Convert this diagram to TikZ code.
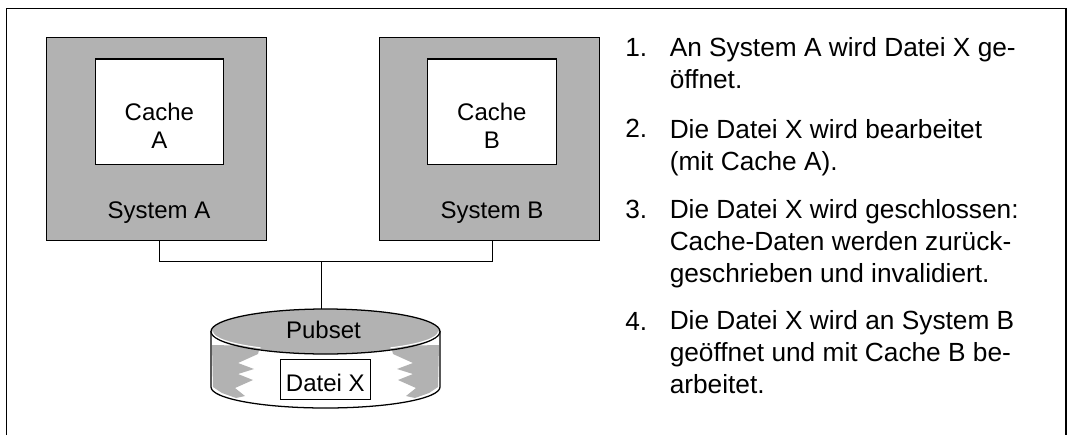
\documentclass[tikz,border=0pt]{standalone}
\usepackage{fontspec}
\setmainfont{Liberation Sans}
\definecolor{sysgray}{gray}{0.70}
\begin{document}
\begin{tikzpicture}[x=0.75pt,y=-0.75pt]
    \tikzstyle{line} = [line width=0.95pt]
    \tikzstyle{bus} = [line width=0.7pt]
    \tikzstyle{sys} = [rectangle, draw=black, line width=0.85pt, fill=sysgray,
        minimum width=165pt, minimum height=152.5pt, inner sep=0pt]
    \tikzstyle{cache} = [rectangle, draw=black, line width=0.85pt, fill=white, align=center,
        minimum width=96.5pt, minimum height=79pt, inner sep=0pt, text height=55pt, text depth=0pt,
        font=\fontsize{18}{21}\selectfont]
    \tikzstyle{lbl} = [anchor=base, inner sep=0pt, font=\fontsize{18}{21}\selectfont]
    \tikzstyle{num} = [anchor=base west, inner sep=0pt, font=\fontsize{19.7}{24}\selectfont]
    \tikzstyle{item} = [anchor=base west, inner sep=0pt, align=left,
        font=\fontsize{19.7}{24}\selectfont]

    \useasboundingbox (0,0) rectangle (1069,435);

    % frame, open at the bottom
    \coordinate (framesw) at (6.5,435);
    \coordinate (framenw) at (6.5,8.5);
    \coordinate (framene) at (1066,8.5);
    \coordinate (framese) at (1066,435);
    \draw[line] (framesw) -- (framenw) -- (framene) -- (framese);

    \node(sysa) [sys] at (46,37) [anchor=north west] {};
    \node(sysb) [sys] at (379,37) [anchor=north west] {};
    \node(cachea) [cache] at (94.5,58.5) [anchor=north west] {Cache\\ A};
    \node(cacheb) [cache] at (427,58.5) [anchor=north west] {Cache\\ B};
    \node(labela) [lbl] at (159,218) {System A};
    \node(labelb) [lbl] at (492,218) {System B};

    % pubset
    \coordinate (disktop) at (321,309);
    \filldraw[line, fill=white] (211,331) -- (211,387) arc[start angle=180, end angle=0,
        x radius=114.5, y radius=21] -- (440,331);
    \fill[sysgray] (212,345) -- (260,346) -- (258,354) -- (238,363) -- (254,369) -- (238,374)
        -- (253,380) -- (235,388) -- (245,396) -- (236,398) -- (222,393) -- (213,387) -- cycle;
    \fill[sysgray] (439,345) -- (391,346) -- (393,354) -- (413,363) -- (397,369) -- (413,374)
        -- (398,380) -- (416,388) -- (406,396) -- (415,398) -- (429,393) -- (438,387) -- cycle;
    \filldraw[line, fill=sysgray] (325.5,331.5) ellipse [x radius=114.5, y radius=22.5];
    \draw[white, line width=0.8pt] (212.5,331.5) arc[start angle=180, end angle=125,
        x radius=113, y radius=20];
    \draw[white, line width=0.8pt] (438.5,331.5) arc[start angle=0, end angle=55,
        x radius=113, y radius=20];
    \node(pubset) [lbl] at (323.5,338) {Pubset};
    \node(datei) [rectangle, draw=black, line width=0.7pt, fill=white, inner sep=0pt,
        minimum width=68pt, minimum height=30pt, text height=18pt, text depth=0pt,
        font=\fontsize{18}{21}\selectfont]
        at (325.3,379) {Datei X};

    % bus
    \coordinate (busa) at (159,261);
    \coordinate (busb) at (492,261);
    \coordinate (busm) at (321,261);
    \draw[bus] (sysa.south -| busa) -- (busa) -- (busb) -- (sysb.south -| busb);
    \draw[bus] (busm) -- (disktop);

    % list
    \node(numa) [num] at (625,57) {1.};
    \node(numb) [num] at (625,137) {2.};
    \node(numc) [num] at (625,218) {3.};
    \node(numd) [num] at (625,330) {4.};
    \node(itema) [item] at (669.5,89) {An System A wird Datei X ge-\\ öffnet.};
    \node(itemb) [item] at (669.5,170) {Die Datei X wird bearbeitet\\ (mit Cache A).};
    \node(itemc) [item] at (669.5,282) {Die Datei X wird geschlossen:\\ Cache-Daten werden zurück-\\ geschrieben und invalidiert.};
    \node(itemd) [item] at (669.5,393) {Die Datei X wird an System B\\ geöffnet und mit Cache B be-\\ arbeitet.};
\end{tikzpicture}
\end{document}
